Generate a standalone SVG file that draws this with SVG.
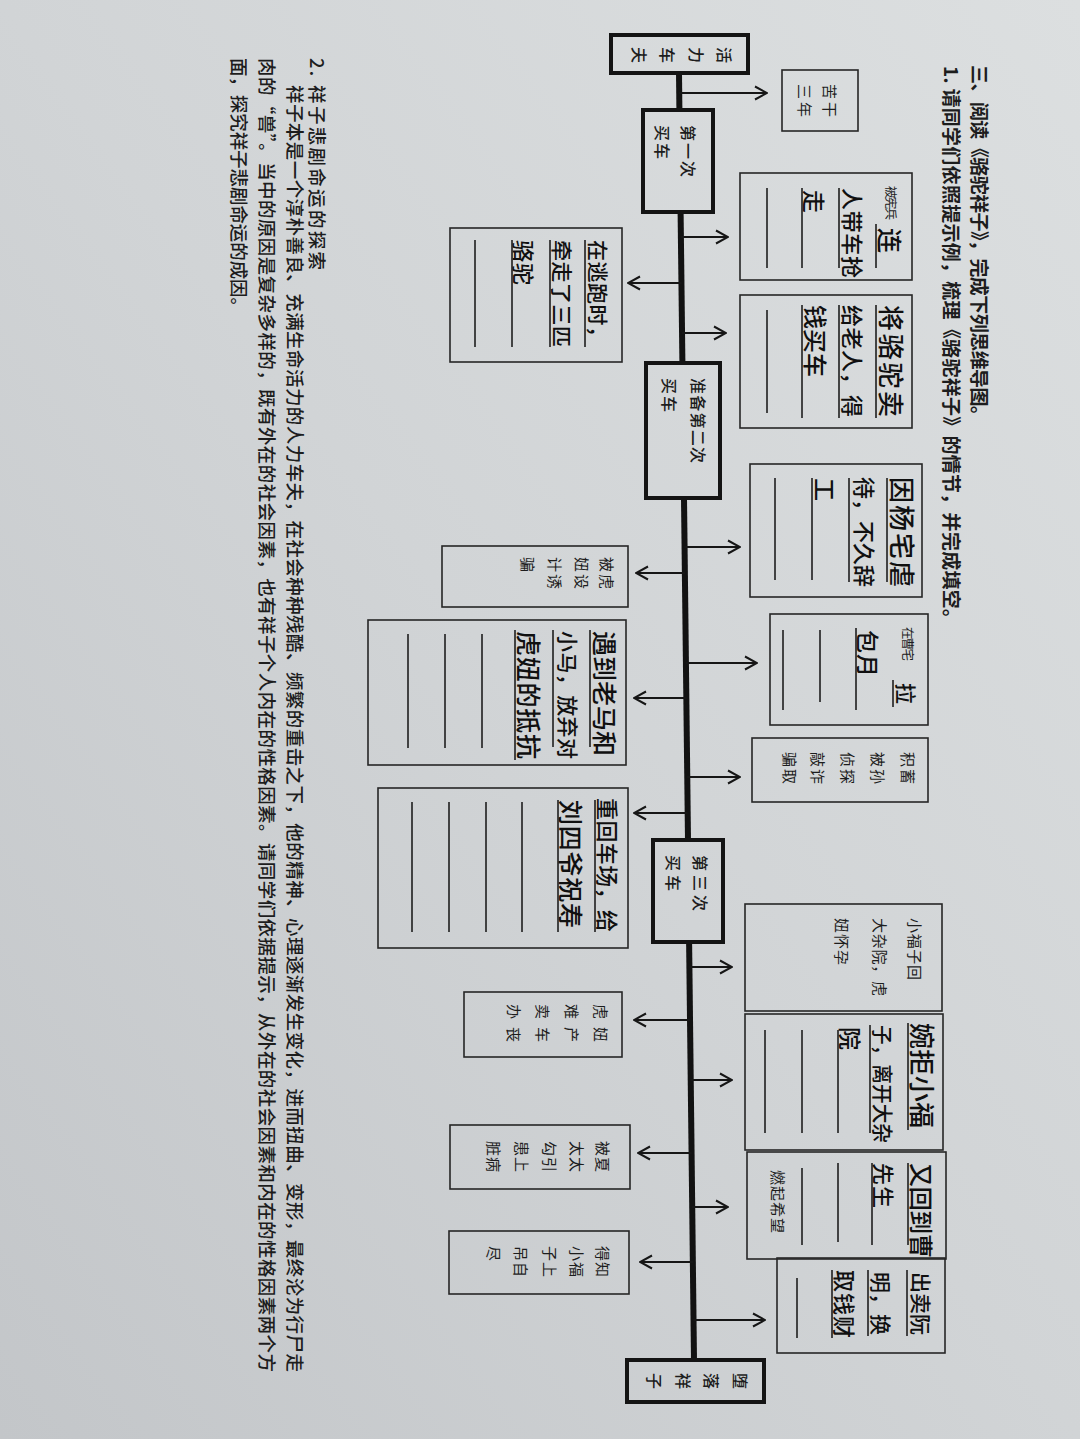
<svg xmlns="http://www.w3.org/2000/svg" width="1080" height="1439" viewBox="0 0 1080 1439">
<defs>
<linearGradient id="paper" x1="1" y1="0" x2="0" y2="1">
<stop offset="0" stop-color="#dcdfe0"/><stop offset="0.5" stop-color="#d1d4d6"/><stop offset="1" stop-color="#c3c6c9"/>
</linearGradient>
<marker id="ah" viewBox="0 0 14 16" refX="13" refY="8" markerWidth="14" markerHeight="16" markerUnits="userSpaceOnUse" orient="auto"><path d="M1,1.5 L13,8 L1,14.5" fill="none" stroke="#161616" stroke-width="2"/></marker>
<style>
.t{font-family:"Noto Sans CJK SC","Noto Sans",sans-serif;fill:#1d1d1d;dominant-baseline:central}
.hd{font-size:19px;font-weight:700}
.par{font-size:18.5px;font-weight:500}
.lb{font-size:15px}
.sm{font-size:12.5px}
.nd{font-size:16px;font-weight:500}
.hw{font-size:24px;font-weight:500;fill:#101010}
.node rect{fill:none;stroke:#141414;stroke-width:4}
.box rect{fill:none;stroke:#262626;stroke-width:1.6}
.ul{stroke:#1e1e1e;stroke-width:1.6}
.spine{stroke:#121212;stroke-width:6}
.arr{stroke:#161616;stroke-width:2;marker-end:url(#ah)}
</style>
</defs>
<rect width="1080" height="1439" fill="url(#paper)"/>

<g id="header">
<text class="t hd" transform="rotate(90)" x="65" y="-980" textLength="360">三、阅读《骆驼祥子》，完成下列思维导图。</text>
<text class="t hd" transform="rotate(90)" x="66" y="-952" textLength="562">1. 请同学们依照提示例，梳理《骆驼祥子》的情节，并完成填空。</text>
</g>
<g id="section2">
<text class="t par" transform="rotate(90)" x="58" y="-318" textLength="212">2. 祥子悲剧命运的探索</text>
<text class="t par" transform="rotate(90)" x="85" y="-296" textLength="1287">祥子本是一个淳朴善良、充满生命活力的人力车夫，在社会种种残酷、频繁的重击之下，他的精神、心理逐渐发生变化，进而扭曲、变形，最终沦为行尸走</text>
<text class="t par" transform="rotate(90)" x="58" y="-268" textLength="1314">肉的“兽”。当中的原因是复杂多样的，既有外在的社会因素，也有祥子个人内在的性格因素。请同学们依据提示，从外在的社会因素和内在的性格因素两个方</text>
<text class="t par" transform="rotate(90)" x="58" y="-240" textLength="258">面，探究祥子悲剧命运的成因。</text>
</g>

<g id="connectors">
<line class="spine" x1="679" y1="73" x2="679.4" y2="110"/>
<line class="spine" x1="680.6" y1="212" x2="682.4" y2="363"/>
<line class="spine" x1="684" y1="498" x2="688" y2="840"/>
<line class="spine" x1="689.1" y1="942" x2="694" y2="1360"/>
<line class="arr" x1="679" y1="93" x2="767" y2="93"/>
<line class="arr" x1="681" y1="237" x2="728" y2="237"/>
<line class="arr" x1="682" y1="333" x2="726" y2="333"/>
<line class="arr" x1="684.5" y1="547" x2="740" y2="547"/>
<line class="arr" x1="686" y1="663" x2="757" y2="663"/>
<line class="arr" x1="687" y1="777" x2="740" y2="777"/>
<line class="arr" x1="689.5" y1="967" x2="732" y2="967"/>
<line class="arr" x1="690.5" y1="1080" x2="732" y2="1080"/>
<line class="arr" x1="692" y1="1207" x2="728" y2="1207"/>
<line class="arr" x1="693.5" y1="1320" x2="765" y2="1320"/>
<line class="arr" x1="681.5" y1="283" x2="628" y2="283"/>
<line class="arr" x1="685" y1="573" x2="636" y2="573"/>
<line class="arr" x1="686.5" y1="698" x2="634" y2="698"/>
<line class="arr" x1="687.5" y1="813" x2="634" y2="813"/>
<line class="arr" x1="690" y1="1020" x2="634" y2="1020"/>
<line class="arr" x1="691.5" y1="1153" x2="638" y2="1153"/>
<line class="arr" x1="693" y1="1262" x2="640" y2="1262"/>
</g>

<g id="n-start" class="node">
<rect x="611" y="35" width="137" height="38"/>
<text class="t nd" transform="rotate(90)" x="55" y="-725" text-anchor="middle">活</text>
<text class="t nd" transform="rotate(90)" x="55" y="-697" text-anchor="middle">力</text>
<text class="t nd" transform="rotate(90)" x="55" y="-668" text-anchor="middle">车</text>
<text class="t nd" transform="rotate(90)" x="55" y="-640" text-anchor="middle">夫</text>
</g>
<g id="n-first" class="node">
<rect x="643" y="110" width="70" height="102"/>
<text class="t nd" transform="rotate(90)" x="125" y="-689" textLength="52">第一次</text>
<text class="t nd" transform="rotate(90)" x="125" y="-663" textLength="34">买车</text>
</g>
<g id="n-second" class="node">
<rect x="646" y="363" width="74" height="135"/>
<text class="t nd" transform="rotate(90)" x="378" y="-699" textLength="85">准备第二次</text>
<text class="t nd" transform="rotate(90)" x="378" y="-670" textLength="34">买车</text>
</g>
<g id="n-third" class="node">
<rect x="653" y="840" width="70" height="102"/>
<text class="t nd" transform="rotate(90)" x="855" y="-701" textLength="56">第三次</text>
<text class="t nd" transform="rotate(90)" x="855" y="-674" textLength="36">买车</text>
</g>
<g id="n-end" class="node">
<rect x="627" y="1360" width="137" height="42"/>
<text class="t nd" transform="rotate(90)" x="1381" y="-741" text-anchor="middle">堕</text>
<text class="t nd" transform="rotate(90)" x="1381" y="-712" text-anchor="middle">落</text>
<text class="t nd" transform="rotate(90)" x="1381" y="-684" text-anchor="middle">祥</text>
<text class="t nd" transform="rotate(90)" x="1381" y="-655" text-anchor="middle">子</text>
</g>

<g id="r1" class="box">
<rect x="782" y="70" width="76" height="61"/>
<text class="t lb" transform="rotate(90)" x="84" y="-830" textLength="33">苦干</text>
<text class="t lb" transform="rotate(90)" x="84" y="-805" textLength="33">三年</text>
</g>
<g id="r2" class="box">
<rect x="740" y="173" width="172" height="107"/>
<text class="t sm" transform="rotate(90)" x="186" y="-891" textLength="34">被宪兵</text>
<text class="t hw" transform="rotate(90)" x="228" y="-891" style="font-size:25px">连</text>
<line class="ul" x1="876" y1="224" x2="876" y2="268"/>
<text class="t hw" transform="rotate(90)" x="188" y="-854" textLength="90" style="font-size:22px">人带车抢</text>
<line class="ul" x1="839" y1="188" x2="839" y2="268"/>
<text class="t hw" transform="rotate(90)" x="190" y="-815" style="font-size:23px">走</text>
<line class="ul" x1="802" y1="188" x2="802" y2="268"/>
<line class="ul" x1="767" y1="188" x2="767" y2="268"/>
</g>
<g id="r3" class="box">
<rect x="740" y="295" width="172" height="133"/>
<text class="t hw" transform="rotate(90)" x="305" y="-892" textLength="112" style="font-size:26px">将骆驼卖</text>
<line class="ul" x1="876" y1="305" x2="876" y2="418"/>
<text class="t hw" transform="rotate(90)" x="305" y="-854" textLength="112" style="font-size:22px">给老人，得</text>
<line class="ul" x1="839" y1="305" x2="839" y2="418"/>
<text class="t hw" transform="rotate(90)" x="305" y="-816" textLength="72" style="font-size:24px">钱买车</text>
<line class="ul" x1="802" y1="305" x2="802" y2="418"/>
<line class="ul" x1="767" y1="310" x2="767" y2="413"/>
</g>
<g id="r4" class="box">
<rect x="750" y="464" width="172" height="133"/>
<text class="t hw" transform="rotate(90)" x="477" y="-903" textLength="110" style="font-size:26px">因杨宅虐</text>
<line class="ul" x1="887" y1="478" x2="887" y2="582"/>
<text class="t hw" transform="rotate(90)" x="477" y="-866" textLength="110" style="font-size:22px">待，不久辞</text>
<line class="ul" x1="849" y1="478" x2="849" y2="582"/>
<text class="t hw" transform="rotate(90)" x="478" y="-826" style="font-size:23px">工</text>
<line class="ul" x1="812" y1="478" x2="812" y2="580"/>
<line class="ul" x1="775" y1="478" x2="775" y2="580"/>
</g>
<g id="r5" class="box">
<rect x="770" y="614" width="158" height="111"/>
<text class="t sm" transform="rotate(90)" x="627" y="-908" textLength="34">在曹宅</text>
<text class="t hw" transform="rotate(90)" x="683" y="-907" style="font-size:21px">拉</text>
<line class="ul" x1="893" y1="680" x2="893" y2="707"/>
<text class="t hw" transform="rotate(90)" x="630" y="-869" textLength="47" style="font-size:23px">包月</text>
<line class="ul" x1="856" y1="628" x2="856" y2="710"/>
<line class="ul" x1="820" y1="630" x2="820" y2="702"/>
<line class="ul" x1="783" y1="630" x2="783" y2="710"/>
</g>
<g id="r6" class="box">
<rect x="752" y="738" width="176" height="64"/>
<text class="t lb" transform="rotate(90)" x="752" y="-908" textLength="32">积蓄</text>
<text class="t lb" transform="rotate(90)" x="752" y="-878" textLength="32">被孙</text>
<text class="t lb" transform="rotate(90)" x="752" y="-848" textLength="32">侦探</text>
<text class="t lb" transform="rotate(90)" x="752" y="-818" textLength="32">敲诈</text>
<text class="t lb" transform="rotate(90)" x="752" y="-790" textLength="32">骗取</text>
</g>
<g id="r7" class="box">
<rect x="745" y="904" width="197" height="107"/>
<text class="t lb" transform="rotate(90)" x="918" y="-915" textLength="62">小福子回</text>
<text class="t lb" transform="rotate(90)" x="918" y="-880" textLength="78">大杂院，虎</text>
<text class="t lb" transform="rotate(90)" x="918" y="-842" textLength="47">妞怀孕</text>
</g>
<g id="r8" class="box">
<rect x="745" y="1014" width="198" height="136"/>
<text class="t hw" transform="rotate(90)" x="1023" y="-923" textLength="105" style="font-size:26px">婉拒小福</text>
<line class="ul" x1="908" y1="1023" x2="908" y2="1130"/>
<text class="t hw" transform="rotate(90)" x="1025" y="-884" textLength="118" lengthAdjust="spacingAndGlyphs" style="font-size:21px">子，离开大杂</text>
<line class="ul" x1="870" y1="1025" x2="870" y2="1133"/>
<text class="t hw" transform="rotate(90)" x="1027" y="-851" style="font-size:23px">院</text>
<line class="ul" x1="838" y1="1030" x2="838" y2="1133"/>
<line class="ul" x1="802" y1="1030" x2="802" y2="1133"/>
<line class="ul" x1="765" y1="1030" x2="765" y2="1133"/>
</g>
<g id="r9" class="box">
<rect x="747" y="1152" width="199" height="107"/>
<text class="t hw" transform="rotate(90)" x="1163" y="-922" textLength="95" style="font-size:24px">又回到曹</text>
<line class="ul" x1="908" y1="1163" x2="908" y2="1245"/>
<text class="t hw" transform="rotate(90)" x="1163" y="-885" textLength="45" style="font-size:22px">先生</text>
<line class="ul" x1="872" y1="1163" x2="872" y2="1245"/>
<line class="ul" x1="838" y1="1163" x2="838" y2="1242"/>
<line class="ul" x1="802" y1="1168" x2="802" y2="1245"/>
<text class="t lb" transform="rotate(90)" x="1170" y="-778" textLength="63">燃起希望</text>
</g>
<g id="r10" class="box">
<rect x="777" y="1258" width="168" height="95"/>
<text class="t hw" transform="rotate(90)" x="1272" y="-922" textLength="63" style="font-size:21px">出卖阮</text>
<line class="ul" x1="907" y1="1270" x2="907" y2="1336"/>
<text class="t hw" transform="rotate(90)" x="1272" y="-882" textLength="63" style="font-size:21px">明，换</text>
<line class="ul" x1="868" y1="1270" x2="868" y2="1336"/>
<text class="t hw" transform="rotate(90)" x="1270" y="-846" textLength="68" style="font-size:22px">取钱财</text>
<line class="ul" x1="832" y1="1270" x2="832" y2="1338"/>
<line class="ul" x1="797" y1="1278" x2="797" y2="1338"/>
</g>

<g id="l1" class="box">
<rect x="450" y="228" width="172" height="134"/>
<text class="t hw" transform="rotate(90)" x="240" y="-599" textLength="107" style="font-size:21px">在逃跑时，</text>
<line class="ul" x1="585" y1="240" x2="585" y2="347"/>
<text class="t hw" transform="rotate(90)" x="240" y="-563" textLength="107" style="font-size:21px">牵走了三匹</text>
<line class="ul" x1="550" y1="240" x2="550" y2="347"/>
<text class="t hw" transform="rotate(90)" x="240" y="-525" textLength="45" style="font-size:22px">骆驼</text>
<line class="ul" x1="512" y1="240" x2="512" y2="347"/>
<line class="ul" x1="475" y1="240" x2="475" y2="347"/>
</g>
<g id="l2" class="box">
<rect x="442" y="546" width="186" height="61"/>
<text class="t lb" transform="rotate(90)" x="557" y="-607" textLength="32">被虎</text>
<text class="t lb" transform="rotate(90)" x="557" y="-582" textLength="32">妞设</text>
<text class="t lb" transform="rotate(90)" x="557" y="-555" textLength="32">计诱</text>
<text class="t lb" transform="rotate(90)" x="557" y="-528">骗</text>
</g>
<g id="l3" class="box">
<rect x="368" y="620" width="258" height="145"/>
<text class="t hw" transform="rotate(90)" x="631" y="-606" textLength="125" style="font-size:25px">遇到老马和</text>
<line class="ul" x1="590" y1="630" x2="590" y2="747"/>
<text class="t hw" transform="rotate(90)" x="631" y="-569" textLength="128" style="font-size:21px">小马，放弃对</text>
<line class="ul" x1="553" y1="630" x2="553" y2="747"/>
<text class="t hw" transform="rotate(90)" x="631" y="-530" textLength="128" style="font-size:25px">虎妞的抵抗</text>
<line class="ul" x1="515" y1="630" x2="515" y2="760"/>
<line class="ul" x1="482" y1="634" x2="482" y2="748"/>
<line class="ul" x1="445" y1="634" x2="445" y2="748"/>
<line class="ul" x1="408" y1="634" x2="408" y2="748"/>
</g>
<g id="l4" class="box">
<rect x="378" y="788" width="250" height="160"/>
<text class="t hw" transform="rotate(90)" x="798" y="-609" textLength="134" style="font-size:22px">重回车场，给</text>
<line class="ul" x1="595" y1="800" x2="595" y2="932"/>
<text class="t hw" transform="rotate(90)" x="800" y="-572" textLength="128" style="font-size:25px">刘四爷祝寿</text>
<line class="ul" x1="558" y1="800" x2="558" y2="932"/>
<line class="ul" x1="522" y1="802" x2="522" y2="932"/>
<line class="ul" x1="486" y1="802" x2="486" y2="932"/>
<line class="ul" x1="449" y1="802" x2="449" y2="932"/>
<line class="ul" x1="412" y1="802" x2="412" y2="932"/>
</g>
<g id="l5" class="box">
<rect x="464" y="992" width="158" height="65"/>
<text class="t lb" transform="rotate(90)" x="1004" y="-601" textLength="38">虎妞</text>
<text class="t lb" transform="rotate(90)" x="1004" y="-572" textLength="38">难产</text>
<text class="t lb" transform="rotate(90)" x="1004" y="-543" textLength="38">卖车</text>
<text class="t lb" transform="rotate(90)" x="1004" y="-514" textLength="38">办丧</text>
</g>
<g id="l6" class="box">
<rect x="450" y="1125" width="180" height="64"/>
<text class="t lb" transform="rotate(90)" x="1141" y="-603" textLength="31">被夏</text>
<text class="t lb" transform="rotate(90)" x="1141" y="-577" textLength="31">太太</text>
<text class="t lb" transform="rotate(90)" x="1141" y="-550" textLength="31">勾引</text>
<text class="t lb" transform="rotate(90)" x="1141" y="-522" textLength="31">患上</text>
<text class="t lb" transform="rotate(90)" x="1141" y="-494" textLength="31">脏病</text>
</g>
<g id="l7" class="box">
<rect x="449" y="1231" width="180" height="63"/>
<text class="t lb" transform="rotate(90)" x="1246" y="-603" textLength="31">得知</text>
<text class="t lb" transform="rotate(90)" x="1246" y="-577" textLength="31">小福</text>
<text class="t lb" transform="rotate(90)" x="1246" y="-550" textLength="31">子上</text>
<text class="t lb" transform="rotate(90)" x="1246" y="-521" textLength="31">吊自</text>
<text class="t lb" transform="rotate(90)" x="1246" y="-494">尽</text>
</g>
</svg>
